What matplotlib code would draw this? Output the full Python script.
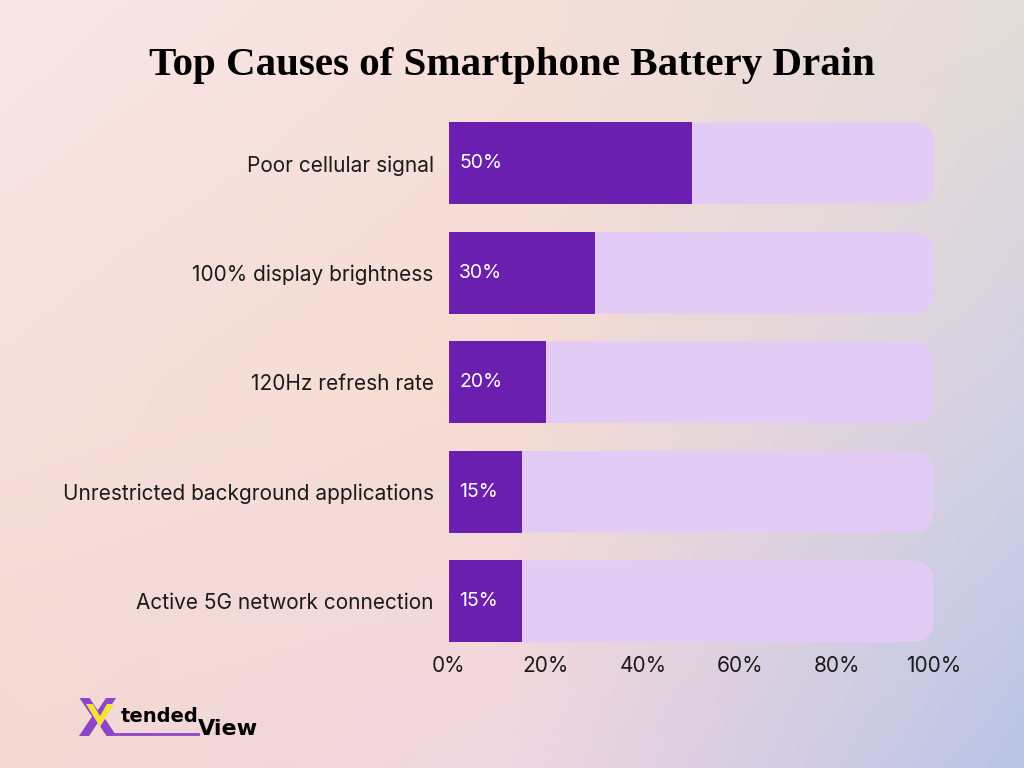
import numpy as np
import matplotlib
matplotlib.use('Agg')
import matplotlib.pyplot as plt
from matplotlib.colors import to_rgb
from matplotlib.patches import FancyBboxPatch, Polygon
from matplotlib.ticker import FuncFormatter

categories = [
    "Poor cellular signal",
    "100% display brightness",
    "120Hz refresh rate",
    "Unrestricted background applications",
    "Active 5G network connection",
]
values = [50, 30, 20, 15, 15]
xticks = [0, 20, 40, 60, 80, 100]
title = "Top Causes of Smartphone Battery Drain"

BAR_COLOR = "#6A1FAF"
TRACK_COLOR = "#E2CBF4"
TEXT_COLOR = "#1A1A1A"
LOGO_PURPLE = "#8E45C9"

fig = plt.figure(figsize=(10.24, 7.68), dpi=100)

# background gradient (3x3 control colours, bilinear blend)
ctrl = np.array([
    [to_rgb("#F8E6E6"), to_rgb("#F6E0DA"), to_rgb("#E3DCD6")],
    [to_rgb("#F7E0DC"), to_rgb("#F6DCD2"), to_rgb("#D4D2E4")],
    [to_rgb("#F4D8D2"), to_rgb("#F0D6E0"), to_rgb("#BAC4E6")],
])
n = 300
t = np.linspace(0, 1, n)
pos = np.array([0, 0.5, 1])
rows = np.stack([np.stack([np.interp(t, pos, ctrl[r, :, c]) for c in range(3)], -1)
                 for r in range(3)])          # 3 x n x 3
grad = np.stack([np.stack([np.interp(t, pos, rows[:, i, c]) for c in range(3)], -1)
                 for i in range(n)], 1)        # n x n x 3
bg = fig.add_axes([0, 0, 1, 1], zorder=0)
bg.imshow(grad, aspect='auto', extent=[0, 1, 0, 1], origin='upper')
bg.set_xlim(0, 1)
bg.set_ylim(0, 1)
bg.axis('off')

ax = fig.add_axes([449 / 1024, 1 - 656 / 768, 485 / 1024, 547.5 / 768], zorder=1)
ax.patch.set_alpha(0)
y = np.arange(len(categories))
h = 0.745

# rounded track to 100%
for yi in y:
    ax.add_patch(FancyBboxPatch((0, yi - h / 2), 100, h,
                                boxstyle="round,pad=0,rounding_size=4.6",
                                mutation_aspect=0.0445,
                                fc=TRACK_COLOR, ec='none', zorder=1))

ax.barh(y, values, height=h, color=BAR_COLOR, zorder=2)
for yi, v in zip(y, values):
    ax.text(2.1, yi, f"{v}%", va='center', ha='left', color='white',
            fontsize=14, family='Inter', zorder=3)

ax.set_xlim(0, 100)
ax.set_ylim(len(categories) - 0.5, -0.5)
ax.set_yticks(y)
ax.set_yticklabels(categories, fontsize=15, family='Inter', color=TEXT_COLOR)
ax.set_xticks(xticks)
ax.xaxis.set_major_formatter(FuncFormatter(lambda v, p: f"{v:.0f}%"))
for lab in ax.get_xticklabels():
    lab.set_family('Inter')
ax.tick_params(axis='x', length=0, pad=0, labelsize=15, labelcolor=TEXT_COLOR)
ax.tick_params(axis='y', length=0, pad=11)
for s in ax.spines.values():
    s.set_visible(False)

fig.text(0.5, 1 - 65 / 768, title, ha='center', va='center',
         fontsize=29.5, fontweight='bold', family='Liberation Serif', color='black')

# logo
fig.text(77 / 1024, 1 - 722 / 768, "X", ha='left', va='center', fontsize=37,
         fontweight='bold', family='DejaVu Sans', color=LOGO_PURPLE)
fig.add_artist(Polygon([[86 / 1024, 1 - 704 / 768], [93 / 1024, 1 - 704 / 768],
                        [100 / 1024, 1 - 716 / 768], [107 / 1024, 1 - 704 / 768],
                        [114 / 1024, 1 - 704 / 768], [100 / 1024, 1 - 727 / 768]],
                       closed=True, fc="#F2E23A", ec='none', zorder=5,
                       transform=fig.transFigure))
fig.text(121 / 1024, 1 - 717 / 768, "tended", ha='left', va='center', fontsize=14,
         fontweight='bold', family='DejaVu Sans', color="black")
fig.text(198 / 1024, 1 - 729 / 768, "View", ha='left', va='center', fontsize=16,
         fontweight='bold', family='DejaVu Sans', color="black")
fig.add_artist(plt.Line2D([108 / 1024, 198 / 1024], [1 - 734 / 768, 1 - 734 / 768],
                          color=LOGO_PURPLE, lw=2))

fig.savefig("out.png", dpi=100)
